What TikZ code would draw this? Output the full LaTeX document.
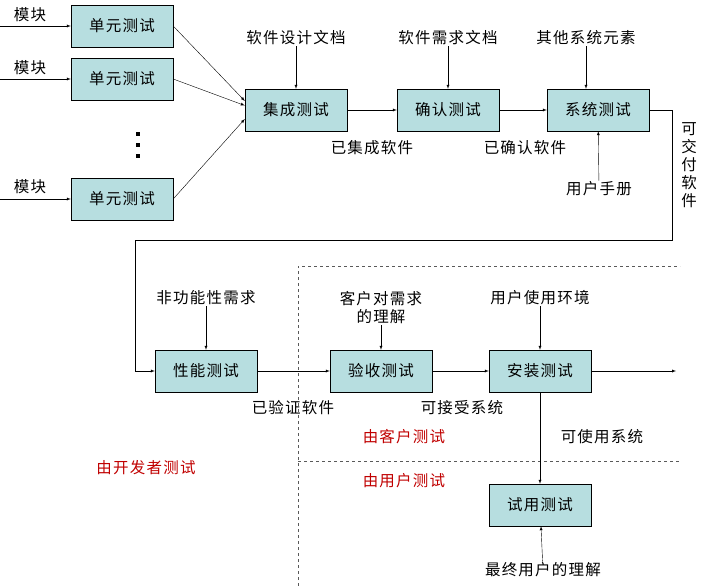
\documentclass[tikz,border=0pt]{standalone}
\usepackage{fontspec}
\setmainfont{Noto Sans CJK SC}[LetterSpace=8]
\usetikzlibrary{arrows}
\definecolor{kasten}{HTML}{B7DEE0}
\definecolor{rot}{HTML}{C00000}
\begin{document}
\begin{tikzpicture}[x=1pt,y=-1pt,
    test/.style={
      rectangle,
      draw,
      fill=kasten,
      minimum width=102pt,
      minimum height=42pt,
      font=\fontsize{15.5}{17}\selectfont},
    txt/.style={font=\fontsize{15.5}{18}\selectfont, inner sep=1pt},
    gruppe/.style={font=\fontsize{15.5}{18}\selectfont, text=rot},
    pfeil/.style={-latex, thin},
    trenn/.style={dashed, gray!70!black}
    ]
  \useasboundingbox (0,0) rectangle (710,586);

  \node at (122,26) (einheit1) [test] {单元测试};
  \node at (122,79) (einheit2) [test] {单元测试};
  \node at (122,199) (einheit3) [test] {单元测试};
  \node[txt] at (30,15) (modul1) {模块};
  \node[txt] at (30,68) (modul2) {模块};
  \node[txt] at (30,187) (modul3) {模块};
  \coordinate (rand1) at (0,26);
  \coordinate (rand2) at (0,79);
  \coordinate (rand3) at (0,199);
  \foreach \y in {132,143,154}
    \fill (136,\y) rectangle +(4,4);

  \node at (296,110) (integration) [test] {集成测试};
  \node at (448,110) (bestaetigung) [test] {确认测试};
  \node at (598,110) (system) [test] {系统测试};

  \node[txt] at (296,38) (entwurf) {软件设计文档};
  \node[txt] at (448,38) (anforderung) {软件需求文档};
  \node[txt] at (586,38) (elemente) {其他系统元素};
  \node[txt] at (372,148) {已集成软件};
  \node[txt] at (525,148) {已确认软件};
  \node[txt] at (599,189) (handbuch) {用户手册};
  \node[txt, align=center] at (689,165) {可\\交\\付\\软\\件};

  \node at (206,371) (leistung) [test] {性能测试};
  \node at (381,371) (abnahme) [test] {验收测试};
  \node at (540,371) (installation) [test] {安装测试};
  \node at (540,505) (probe) [test] {试用测试};
  \coordinate (ende) at (676,371);

  \node[txt] at (206,298) (nichtfunk) {非功能性需求};
  \node[txt, align=center] at (381,308) (kunde) {客户对需求\\的理解};
  \node[txt] at (540,298) (umgebung) {用户使用环境};
  \node[txt] at (543,570) (endnutzer) {最终用户的理解};
  \node[txt] at (293,408) {已验证软件};
  \node[txt] at (462,408) {可接受系统};
  \node[txt] at (602,437) {可使用系统};

  \node[gruppe] at (404,437) {由客户测试};
  \node[gruppe] at (404,481) {由用户测试};
  \node[gruppe] at (146,468) {由开发者测试};

  \draw[trenn] (298,586) -- (298,266) -- (680,266);
  \draw[trenn] (298,461) -- (680,461);

  \foreach \i in {1,2,3}
    \draw[pfeil] (rand\i) -- (einheit\i);
  \draw[pfeil] (einheit1.east) -- (integration.170);
  \draw[pfeil] (einheit2.east) -- (integration.175);
  \draw[pfeil] (einheit3.east) -- (integration.190);
  \draw[pfeil] (integration) -- (bestaetigung);
  \draw[pfeil] (bestaetigung) -- (system);
  \draw[pfeil] (entwurf) -- (integration);
  \draw[pfeil] (anforderung) -- (bestaetigung);
  \draw[pfeil] (elemente) -- (system.north -| elemente);
  \draw[pfeil] (handbuch) -- (system);
  \draw[pfeil] (system.east) -- (672,110) -- (672,240) -- (135,240) |- (leistung.west);
  \draw[pfeil] (leistung) -- (abnahme);
  \draw[pfeil] (abnahme) -- (installation);
  \draw[pfeil] (installation) -- (ende);
  \draw[pfeil] (installation) -- (probe);
  \draw[pfeil] (nichtfunk) -- (leistung);
  \draw[pfeil] (kunde) -- (abnahme);
  \draw[pfeil] (umgebung) -- (installation);
  \draw[pfeil] (endnutzer) -- (probe);
\end{tikzpicture}
\end{document}
